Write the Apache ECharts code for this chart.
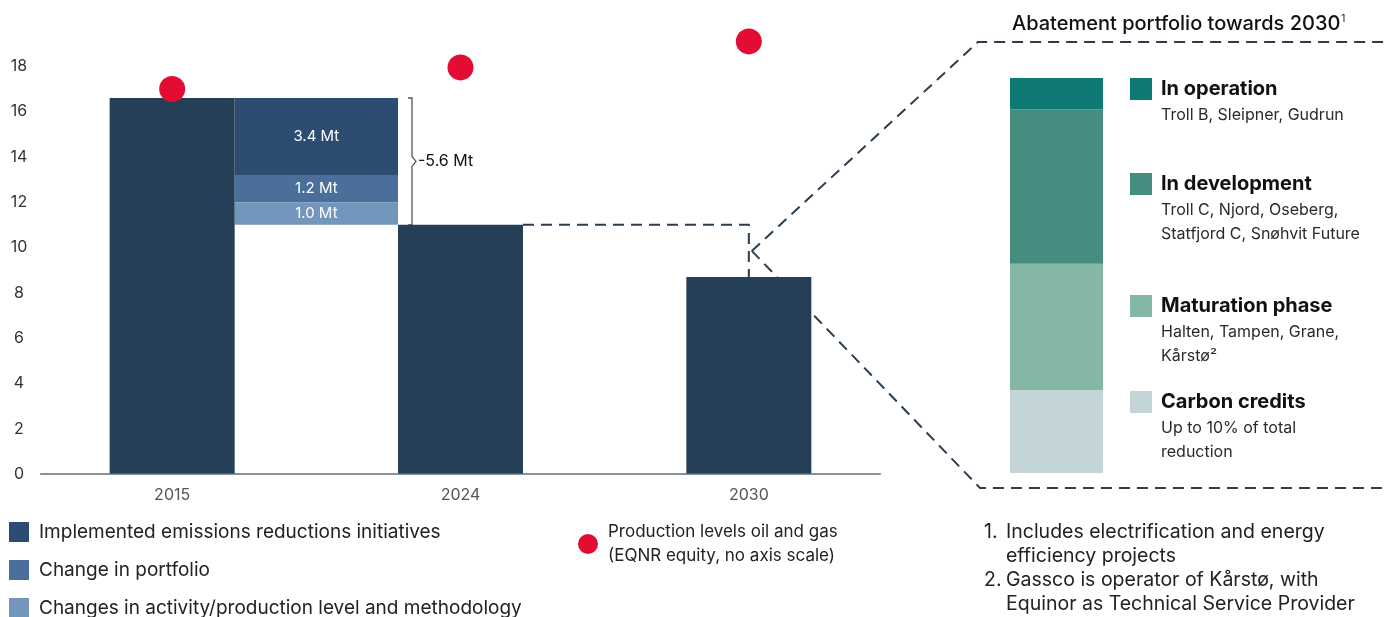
<!DOCTYPE html>
<html>
<head>
<meta charset="utf-8">
<script src="https://cdn.jsdelivr.net/npm/echarts@6/dist/echarts.min.js"></script>
<style>
  html, body { margin: 0; padding: 0; background: #fff; }
  #main { width: 1387px; height: 617px; }
</style>
</head>
<body>
<div id="main"></div>
<script>
var FONT = 'Inter, "Noto Sans", sans-serif';

// left chart data (Mt CO2)
var years = ['2015', '2024', '2030'];
var emissions = [16.6, 11.0, 8.7];
var production = [17.0, 17.95, 19.1]; // no axis scale, just position
var productionName = 'Production levels oil and gas\n(EQNR equity, no axis scale)';

var changeNames = [
  'Implemented emissions reductions initiatives',
  'Change in portfolio',
  'Changes in activity/production level and methodology'
];
var changeValues = [3.4, 1.2, 1.0];
var changeColors = ['#2c4d71', '#4a6f9b', '#7396bc'];

// abatement portfolio (share of the bar, bottom to top)
var portfolioNames = ['Carbon credits', 'Maturation phase', 'In development', 'In operation'];
var portfolioShares = [21, 32, 39, 8];
var portfolioColors = ['#c3d5d8', '#85b8a4', '#458c81', '#0f7a74'];
var portfolioNotes = [
  ['Up to 10% of total', 'reduction'],
  ['Halten, Tampen, Grane,', 'Kårstø²'],
  ['Troll C, Njord, Oseberg,', 'Statfjord C, Snøhvit Future'],
  ['Troll B, Sleipner, Gudrun']
];

var barWidth = 125;
var dashColor = '#2b3d50';

function changeSeries(i) {
  var top = emissions[0];
  for (var k = 0; k < i; k++) top -= changeValues[k];
  return {
    name: changeNames[i],
    type: 'custom',
    xAxisIndex: 0,
    yAxisIndex: 0,
    z: 3,
    itemStyle: { color: changeColors[i] },
    encode: { x: 0, y: [1, 2] },
    data: [[0, top, top - changeValues[i], changeValues[i]]],
    renderItem: function (params, api) {
      var p0 = api.coord([api.value(0), api.value(1)]);
      var p1 = api.coord([api.value(0) + 1, api.value(2)]);
      var x0 = p0[0] + barWidth / 2;
      var x1 = p1[0] - barWidth / 2;
      return {
        type: 'rect',
        shape: { x: x0, y: p0[1], width: x1 - x0, height: p1[1] - p0[1] },
        style: { fill: changeColors[i] },
        textContent: {
          style: { text: api.value(3).toFixed(1) + ' Mt', fill: '#fff', fontSize: 15, fontFamily: FONT }
        },
        textConfig: { position: 'inside' }
      };
    }
  };
}

var totalChange = changeValues.reduce(function (a, b) { return a + b; }, 0);

var series = [
  {
    name: 'Emissions',
    type: 'bar',
    xAxisIndex: 0,
    yAxisIndex: 0,
    barWidth: barWidth,
    itemStyle: { color: '#243f56' },
    data: emissions,
    z: 3
  },
  changeSeries(0),
  changeSeries(1),
  changeSeries(2),
  {
    // bracket with the total change
    type: 'custom',
    xAxisIndex: 0,
    yAxisIndex: 0,
    silent: true,
    z: 3,
    encode: { x: 0, y: [1, 2] },
    data: [[0, emissions[0], emissions[0] - totalChange]],
    renderItem: function (params, api) {
      var p0 = api.coord([0, api.value(1)]);
      var p1 = api.coord([1, api.value(2)]);
      var x = p1[0] - barWidth / 2 + 14;
      var yT = p0[1], yB = p1[1], yM = (yT + yB) / 2;
      return {
        type: 'group',
        children: [
          {
            type: 'polyline',
            shape: { points: [[x - 4, yT], [x, yT], [x, yM - 5], [x + 4, yM], [x, yM + 5], [x, yB], [x - 4, yB]] },
            style: { stroke: '#4a5868', lineWidth: 1.3, fill: null }
          },
          {
            type: 'text',
            x: x + 6,
            y: yM,
            style: { text: '-' + totalChange.toFixed(1) + ' Mt', fill: '#111', fontSize: 16, verticalAlign: 'middle', fontFamily: FONT }
          }
        ]
      };
    }
  },
  {
    name: productionName,
    type: 'scatter',
    xAxisIndex: 0,
    yAxisIndex: 1,
    symbolSize: 26,
    itemStyle: { color: '#e30d33', opacity: 1 },
    data: production,
    z: 4
  }
];

portfolioNames.forEach(function (n, i) {
  series.push({
    name: n,
    type: 'bar',
    stack: 'portfolio',
    xAxisIndex: 1,
    yAxisIndex: 2,
    barWidth: '100%',
    itemStyle: { color: portfolioColors[i] },
    data: [portfolioShares[i]]
  });
});

// right-hand legend drawn as text blocks
var legendTops = { 'In operation': 78, 'In development': 173, 'Maturation phase': 295, 'Carbon credits': 391 };
var graphics = [
  {
    type: 'text', x: 1012, y: 24,
    style: {
      text: '{t|Abatement portfolio towards 2030}{s|1}',
      verticalAlign: 'middle',
      fontFamily: FONT,
      rich: {
        t: { fontSize: 20, fontWeight: 500, fill: '#111', fontFamily: FONT },
        s: { fontSize: 10, fill: '#111', fontFamily: FONT, padding: [0, 0, 10, 1] }
      }
    }
  },
  { type: 'text', left: 872, top: -10, style: { text: '2', fontSize: 13, fill: '#777', fontFamily: FONT } }
];
portfolioNames.forEach(function (n, i) {
  var t = legendTops[n];
  graphics.push({ type: 'rect', left: 1130, top: t, shape: { width: 22, height: 22 }, style: { fill: portfolioColors[i] } });
  graphics.push({ type: 'text', x: 1161, y: t + 11, style: { text: n, fontSize: 20, fontWeight: 'bold', fill: '#111', verticalAlign: 'middle', fontFamily: FONT } });
  graphics.push({ type: 'text', x: 1161, y: t + 25, style: { text: portfolioNotes[i].join('\n'), fontSize: 16, lineHeight: 24, fill: '#2a2a2a', verticalAlign: 'top', fontFamily: FONT } });
});

// footnotes
var footnotes = [
  ['1.', 'Includes electrification and energy', 'efficiency projects'],
  ['2.', 'Gassco is operator of Kårstø, with', 'Equinor as Technical Service Provider']
];
footnotes.forEach(function (f, i) {
  var top = 520 + i * 48;
  graphics.push({ type: 'text', x: 984, y: top, style: { text: f[0], fontSize: 19.5, lineHeight: 24, fill: '#222', verticalAlign: 'top', fontFamily: FONT } });
  graphics.push({ type: 'text', x: 1006, y: top, style: { text: f[1] + '\n' + f[2], fontSize: 19.5, lineHeight: 24, fill: '#222', verticalAlign: 'top', fontFamily: FONT } });
});

var option = {
  animation: false,
  backgroundColor: '#fff',
  textStyle: { fontFamily: FONT },
  grid: [
    { left: 28, right: 494, top: 21, bottom: 143 },
    { left: 1010, width: 93, top: 78, bottom: 144 }
  ],
  xAxis: [
    {
      type: 'category',
      gridIndex: 0,
      data: years,
      axisLine: { show: false },
      axisTick: { show: false },
      axisLabel: { color: '#555', fontSize: 16, margin: 13, fontFamily: FONT }
    },
    { type: 'category', gridIndex: 1, data: ['portfolio'], show: false }
  ],
  yAxis: [
    {
      type: 'value',
      gridIndex: 0,
      min: 0,
      max: 20,
      interval: 2,
      splitLine: { show: false },
      axisLine: { show: false },
      axisTick: { show: false },
      axisLabel: {
        color: '#333',
        fontSize: 16,
        align: 'center',
        margin: 9,
        fontFamily: FONT,
        formatter: function (v) { return v === 20 ? '' : v; }
      }
    },
    { type: 'value', gridIndex: 0, min: 0, max: 20, show: false },
    { type: 'value', gridIndex: 1, min: 0, max: 100, show: false }
  ],
  legend: [
    {
      data: changeNames.map(function (n, i) { return { name: n, icon: 'rect', itemStyle: { color: changeColors[i] } }; }),
      orient: 'vertical',
      left: 9,
      top: 522,
      height: 140,
      padding: 0,
      itemWidth: 20,
      itemHeight: 20,
      itemGap: 18,
      selectedMode: false,
      textStyle: { fontSize: 19, color: '#222', lineHeight: 20, padding: [0, 0, 0, 5], fontFamily: FONT }
    },
    {
      data: [{ name: productionName, icon: 'circle' }],
      left: 578,
      top: 520,
      padding: 0,
      itemWidth: 20,
      itemHeight: 20,
      selectedMode: false,
      textStyle: { fontSize: 17, color: '#222', lineHeight: 24, padding: [0, 0, 0, 5], fontFamily: FONT }
    }
  ],
  graphic: graphics,
  series: series
};

var chart = echarts.init(document.getElementById('main'));
chart.setOption(option);

// dashed connector, zoom lines and the base line, placed from the axes
var a = chart.convertToPixel({ gridIndex: 0 }, [1, emissions[1]]);
var b = chart.convertToPixel({ gridIndex: 0 }, [2, emissions[2]]);
var z0 = chart.convertToPixel({ gridIndex: 0 }, [0, 0]);
var z2 = chart.convertToPixel({ gridIndex: 0 }, [2, 0]);
var pTop = chart.convertToPixel({ gridIndex: 1 }, [0, 100]);
var pBot = chart.convertToPixel({ gridIndex: 1 }, [0, 0]);
var apex = [b[0] + 3, (a[1] + b[1]) / 2];
var boxLeft = pTop[0] - 46.5 - 32;
var boxTop = pTop[1] - 36;
var boxBottom = pBot[1] + 15;
var dashStyle = { stroke: dashColor, lineWidth: 2, lineDash: [11, 7], fill: null };
var lines = [
  [[a[0] + barWidth / 2, a[1]], [b[0], a[1]], [b[0], b[1]]],
  [apex, [boxLeft, boxTop], [1387, boxTop]],
  [apex, [boxLeft + 2, boxBottom], [1387, boxBottom]]
];
var extra = lines.map(function (pts) {
  return { type: 'polyline', z: -1, shape: { points: pts }, style: dashStyle };
});
extra.push({
  type: 'line', z: 5,
  shape: { x1: z0[0] - 132, y1: z0[1], x2: z2[0] + 132, y2: z2[1] },
  style: { stroke: '#5d6e7d', lineWidth: 1.5 }
});
chart.setOption({ graphic: graphics.concat(extra) });
</script>
</body>
</html>
